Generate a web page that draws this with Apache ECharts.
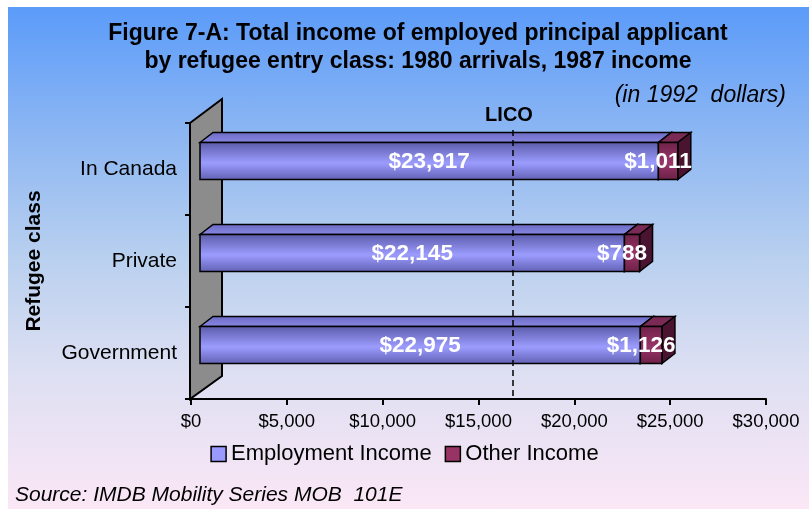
<!DOCTYPE html>
<html>
<head>
<meta charset="utf-8">
<script src="https://cdn.jsdelivr.net/npm/echarts@6/dist/echarts.min.js"></script>
<style>
html,body{margin:0;padding:0;background:#ffffff;}
#bg{position:absolute;left:8px;top:7px;width:801px;height:502px;
background:linear-gradient(to bottom,#5b9bf9 0%,#8cb6f3 25%,#b9d0ef 50%,#dcdff2 72%,#fbe7f6 100%);}
#main{position:absolute;left:0;top:0;width:809px;height:509px;}
</style>
</head>
<body>
<div id="bg"></div>
<div id="main"></div>
<script>
const categories = ['Government', 'Private', 'In Canada'];
const employmentIncome = [22975, 22145, 23917];
const otherIncome = [1126, 788, 1011];
const xTicks = [0, 5000, 10000, 15000, 20000, 25000, 30000];
const licoValue = 16800;
const titleLines = ['Figure 7-A: Total income of employed principal applicant', 'by refugee entry class: 1980 arrivals, 1987 income'];
const unitNote = '(in 1992  dollars)';
const sourceNote = 'Source: IMDB Mobility Series MOB  101E';

const FONT = '"Liberation Sans", Arial, sans-serif';
const fmt = v => '$' + v.toLocaleString('en-US');

const empData = categories.map((c, i) => [0, employmentIncome[i], i]);
const othData = categories.map((c, i) => [employmentIncome[i], employmentIncome[i] + otherIncome[i], i]);

const DX = 13, DY = -10, FX = 9, FY = -8, H = 37;

function makeRender(front, top, side, labelShift) {
  return function (params, api) {
    const s = api.value(0), e = api.value(1), ci = api.value(2);
    const p0 = api.coord([s, ci]);
    const p1 = api.coord([e, ci]);
    const x0 = p0[0] + FX, x1 = p1[0] + FX;
    const yc = p0[1] + FY;
    const yt = yc - H / 2, yb = yc + H / 2;
    const lbl = fmt(e - s);
    return {
      type: 'group',
      children: [
        { type: 'polygon', shape: { points: [[x0, yt], [x0 + DX, yt + DY], [x1 + DX, yt + DY], [x1, yt]] },
          style: { fill: top, stroke: '#000', lineWidth: 1.5 } },
        { type: 'polygon', shape: { points: [[x1, yt], [x1 + DX, yt + DY], [x1 + DX, yb + DY], [x1, yb]] },
          style: { fill: side, stroke: '#000', lineWidth: 1.5 } },
        { type: 'rect', shape: { x: x0, y: yt, width: x1 - x0, height: H },
          style: { fill: front, stroke: '#000', lineWidth: 1.5 } },
        { type: 'text', x: (x0 + x1) / 2 + labelShift, y: yc + 1, z2: 10,
          style: { text: lbl, fill: '#ffffff', font: 'bold 22.5px ' + FONT, align: 'center', verticalAlign: 'middle' } }
      ]
    };
  };
}

const empFront = new echarts.graphic.LinearGradient(0, 0, 0, 1, [
  { offset: 0, color: '#5a5aa8' }, { offset: 0.55, color: '#9c9cff' }, { offset: 1, color: '#6060b2' }]);
const empTop = new echarts.graphic.LinearGradient(0, 0, 0, 1, [
  { offset: 0, color: '#6a6ac4' }, { offset: 1, color: '#8a8ae6' }]);
const othFront = new echarts.graphic.LinearGradient(0, 0, 0, 1, [
  { offset: 0, color: '#6e2248' }, { offset: 0.55, color: '#9a3468' }, { offset: 1, color: '#6a2046' }]);
const othTop = '#7a2a55';
const othSide = '#4a1430';

function wallRender(params, api) {
  const p = api.coord([0, 0]);
  const band = api.size([0, 1])[1];
  const yb = p[1] + band / 2;
  const yt = yb - band * categories.length;
  const x = p[0] - 1;
  return {
    type: 'polygon',
    shape: { points: [[x, yt], [x + 32, yt - 24], [x + 32, yb - 23], [x, yb]] },
    style: { fill: '#8c8c8c', stroke: '#000', lineWidth: 2 }
  };
}

function licoRender(params, api) {
  const cs = params.coordSys;
  const x = api.coord([api.value(0), 0])[0];
  return {
    type: 'group',
    children: [
      { type: 'line', shape: { x1: x, y1: cs.y + 7, x2: x, y2: cs.y + cs.height - 2 },
        style: { stroke: '#000', lineWidth: 1.5, lineDash: [6, 4] } },
      { type: 'text', x: x - 4, y: cs.y - 8,
        style: { text: 'LICO', font: 'bold 20px ' + FONT, fill: '#000', align: 'center', verticalAlign: 'middle' } }
    ]
  };
}

const chart = echarts.init(document.getElementById('main'), null, { renderer: 'canvas' });
chart.setOption({
  backgroundColor: 'transparent',
  animation: false,
  textStyle: { fontFamily: FONT },
  title: {
    text: titleLines.join('\n'),
    left: 413, top: 15, textAlign: 'center',
    textStyle: { fontSize: 23, fontWeight: 'bold', color: '#000', lineHeight: 28, fontFamily: FONT }
  },
  graphic: [
    { type: 'text', right: 23, top: 84, style: { text: unitNote, font: 'italic 23px ' + FONT, fill: '#000' } },
    { type: 'text', left: 15, top: 485, style: { text: sourceNote, font: 'italic 21px ' + FONT, fill: '#000' } }
  ],
  legend: {
    data: ['Employment Income', 'Other Income'],
    left: 'center', top: 438,
    itemWidth: 15, itemHeight: 15, itemGap: 13,
    icon: 'rect',
    itemStyle: { borderColor: '#000', borderWidth: 1.5 },
    textStyle: { fontSize: 22, color: '#000', fontFamily: FONT }
  },
  grid: { left: 191, right: 43, top: 123, bottom: 110 },
  xAxis: {
    type: 'value', min: xTicks[0], max: xTicks[xTicks.length - 1], interval: xTicks[1] - xTicks[0],
    axisLine: { show: true, lineStyle: { color: '#000', width: 2 } },
    axisTick: { show: true, length: 6, lineStyle: { color: '#000', width: 2 } },
    splitLine: { show: false },
    axisLabel: { formatter: v => fmt(v), color: '#000', fontSize: 18.5, margin: 13, fontFamily: FONT }
  },
  yAxis: {
    type: 'category', data: categories,
    name: 'Refugee class', nameLocation: 'middle', nameGap: 146, nameRotate: 90,
    nameTextStyle: { fontSize: 21, fontWeight: 'bold', color: '#000', fontFamily: FONT },
    axisLine: { show: true, lineStyle: { color: '#000', width: 2 } },
    axisTick: { show: true, length: 6, lineStyle: { color: '#000', width: 2 } },
    axisLabel: { color: '#000', fontSize: 21, margin: 14, fontFamily: FONT }
  },
  series: [
    { type: 'custom', name: 'wall', data: [[0, 0, 0]], renderItem: wallRender, silent: true, z: 1,
      encode: { x: 0, y: 2 } },
    { type: 'custom', name: 'Employment Income', data: empData, encode: { x: [0, 1], y: 2 }, z: 3,
      itemStyle: { color: '#9999ff' },
      renderItem: makeRender(empFront, empTop, '#5050a0', 0) },
    { type: 'custom', name: 'Other Income', data: othData, encode: { x: [0, 1], y: 2 }, z: 4,
      itemStyle: { color: '#993366' },
      renderItem: makeRender(othFront, othTop, othSide, -10) },
    { type: 'custom', name: 'LICO', data: [[licoValue, 0, 0]], encode: { x: 0, y: 2 }, z: 5, silent: true,
      renderItem: licoRender }
  ]
});
</script>
</body>
</html>
